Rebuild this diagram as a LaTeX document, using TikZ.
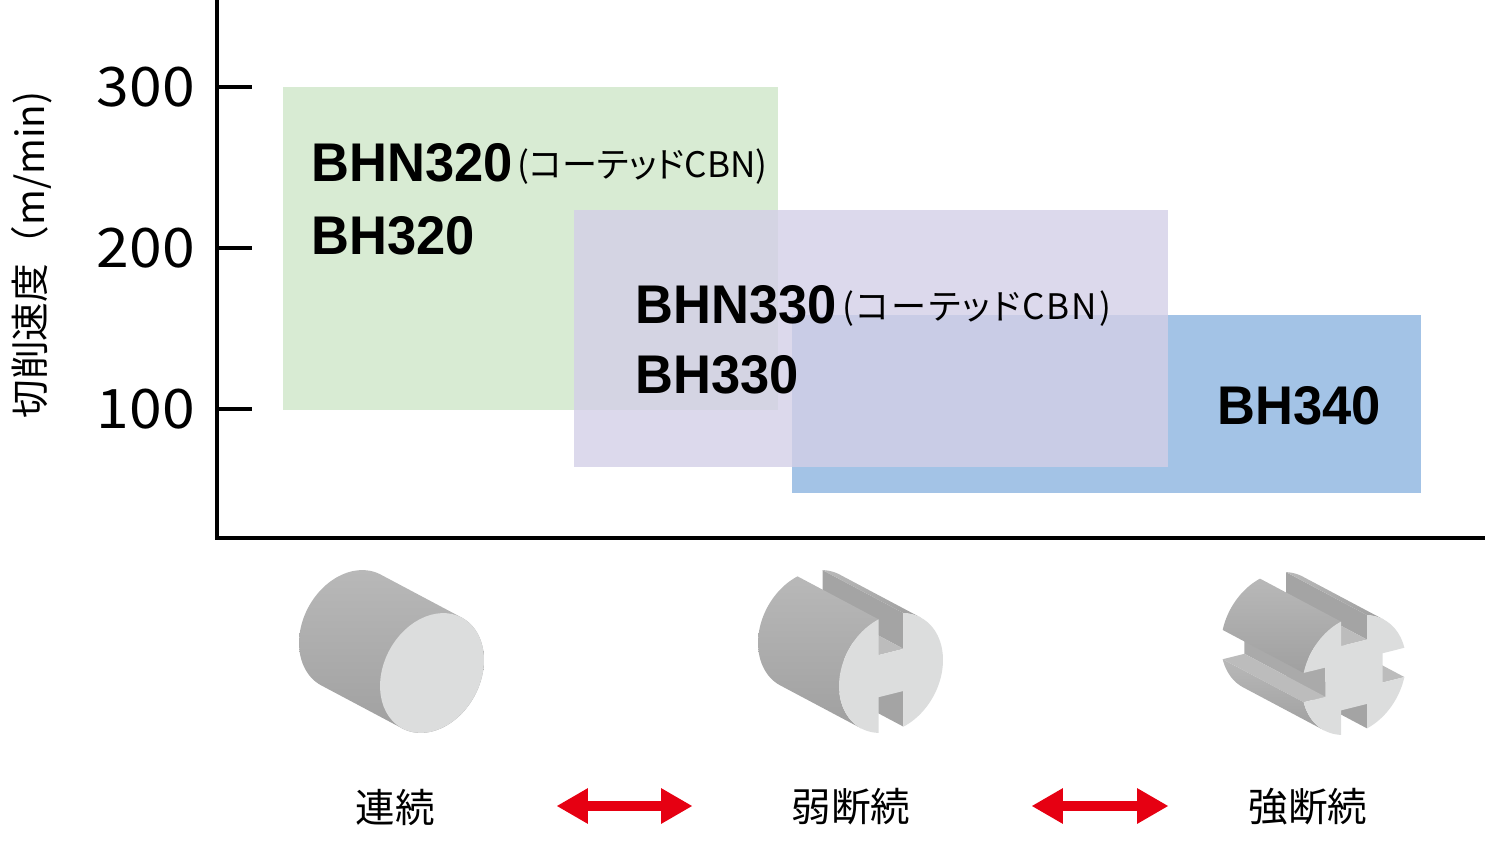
\documentclass[tikz,border=0pt]{standalone}
\usepackage{fontspec}
\setmainfont{Noto Sans CJK JP}
\newfontfamily\gradefont{Liberation Sans}[FakeStretch=0.964]
\newfontfamily\tickfont{Noto Sans CJK JP}[FakeStretch=1.08]
\newfontfamily\coatfont{Noto Sans CJK JP}[RawFeature=+palt]
\newfontfamily\coatwidefont{Noto Sans CJK JP}[RawFeature=+palt, LetterSpace=6]
\usetikzlibrary{arrows.meta}
\definecolor{boxgreen}{RGB}{216,235,211}
\definecolor{boxblue}{RGB}{163,195,230}
\definecolor{boxpurple}{RGB}{211,207,231}
\definecolor{cutred}{RGB}{230,0,18}
\definecolor{facegray}{RGB}{220,221,221}
\definecolor{bodyhi}{RGB}{184,184,184}
\definecolor{bodylo}{RGB}{160,160,160}
\definecolor{wallgray}{RGB}{164,164,164}
\definecolor{floorgray}{RGB}{188,188,188}
\definecolor{sidegray}{RGB}{170,170,170}
\tikzset{
  axisline/.style={line width=2.5pt},
  ticklabel/.style={anchor=east, inner sep=0pt, font=\tickfont\fontsize{31pt}{31pt}\selectfont},
  grade/.style={anchor=base west, inner sep=0pt, font=\gradefont\bfseries\fontsize{31pt}{31pt}\selectfont},
  coat/.style={anchor=base west, inner sep=0pt, font=\coatfont\fontsize{20pt}{20pt}\selectfont},
  cutlabel/.style={inner sep=0pt, font=\fontsize{22.5pt}{22.5pt}\selectfont},
  twoway/.style={cutred, line width=6.2pt,
    {Triangle[length=17.6pt,width=20.4pt,line width=0pt]}-{Triangle[length=17.6pt,width=20.4pt,line width=0pt]}},
  workpiece/.style={samples=60, x={(1.04cm,0.26cm)}, y={(0cm,1.17cm)}, z={(-1.62cm,0.86cm)}},
  body/.style={top color=bodyhi, bottom color=bodylo}
}
\begin{document}
\begin{tikzpicture}[x=0.02cm, y=0.02cm]
  \useasboundingbox (0,0) rectangle (1500,843);
  % speed ranges
  \fill[boxgreen] (283,756) rectangle (778,433);
  \fill[boxblue] (792,528) rectangle (1421,350);
  \fill[boxpurple, fill opacity=0.8] (574,633) rectangle (1168,376);
  % axes
  \coordinate (origin) at (217,305);
  \draw[axisline] (217,843) -- (origin) -- (1485,305);
  \foreach \v/\y in {100/434,200/595,300/756}
  {\draw[axisline] (217,\y) -- (252,\y);
   \node[ticklabel] (tick\v) at (195,\y) {\v};
  }
  \node[rotate=90, inner sep=0pt, font=\fontsize{22pt}{22pt}\selectfont] (ylabel) at (32,588) {切削速度（m/min)};
  % grades
  \node[grade] (bhn320) at (311,661) {BHN320};
  \node[coat] (coat320) at (517,665) {(コーテッドCBN)};
  \node[grade] (bh320) at (311,588) {BH320};
  \node[grade] (bhn330) at (635,520) {BHN330};
  \node[coat, font=\coatwidefont\fontsize{20pt}{20pt}\selectfont] (coat330) at (842,524) {(コーテッドCBN)};
  \node[grade] (bh330) at (635,450) {BH330};
  \node[grade] (bh340) at (1217,419) {BH340};
  % work shapes
  \begin{scope}[shift={(432,170)}, workpiece]
    \shade[body] plot[domain=54.8:234.8] ({cos(\x)},{sin(\x)},1)
      -- plot[domain=234.8:414.8] ({cos(\x)},{sin(\x)},0) -- cycle;
    \fill[facegray] plot[domain=0:360] ({cos(\x)},{sin(\x)},0) -- cycle;
  \end{scope}
  \begin{scope}[shift={(891,170)}, workpiece]
    \fill[wallgray] (0.24,-0.36,0) -- (0.24,-0.971,0) -- (0.24,-0.971,1) -- (0.24,-0.36,1) -- cycle;
    \fill[wallgray] (0.24,0.36,0) -- (0.24,0.971,0) -- (0.24,0.971,1) -- (0.24,0.36,1) -- cycle;
    \fill[floorgray] (-0.24,0.36,0) -- (0.24,0.36,0) -- (0.24,0.36,1) -- (-0.24,0.36,1) -- cycle;
    \shade[body] plot[domain=103.9:234.8] ({cos(\x)},{sin(\x)},0)
      -- plot[domain=234.8:103.9] ({cos(\x)},{sin(\x)},1) -- cycle;
    \shade[body] plot[domain=54.8:76.1] ({cos(\x)},{sin(\x)},0)
      -- plot[domain=76.1:54.8] ({cos(\x)},{sin(\x)},1) -- cycle;
    \fill[facegray] plot[domain=76.1:-76.1] ({cos(\x)},{sin(\x)},0)
      -- (0.24,-0.36,0) -- (-0.24,-0.36,0)
      -- plot[domain=256.1:103.9] ({cos(\x)},{sin(\x)},0)
      -- (-0.24,0.36,0) -- (0.24,0.36,0) -- cycle;
  \end{scope}
  \begin{scope}[shift={(1354,168)}, workpiece]
    \fill[floorgray] (0.55,-0.25,0) -- (0.968,-0.25,0) -- (0.968,-0.25,1) -- (0.55,-0.25,1) -- cycle;
    \fill[wallgray] (0.25,-0.55,0) -- (0.25,-0.968,0) -- (0.25,-0.968,1) -- (0.25,-0.55,1) -- cycle;
    \fill[wallgray] (0.25,0.55,0) -- (0.25,0.968,0) -- (0.25,0.968,1) -- (0.25,0.55,1) -- cycle;
    \fill[floorgray] (-0.25,0.55,0) -- (0.25,0.55,0) -- (0.25,0.55,1) -- (-0.25,0.55,1) -- cycle;
    \fill[sidegray] (-0.55,-0.25,0) -- (-0.55,0.25,0) -- (-0.55,0.25,1) -- (-0.55,-0.25,1) -- cycle;
    \fill[floorgray] (-0.968,-0.25,0) -- (-0.55,-0.25,0) -- (-0.55,-0.25,1) -- (-0.968,-0.25,1) -- cycle;
    \shade[body] plot[domain=104.5:165.5] ({cos(\x)},{sin(\x)},0)
      -- plot[domain=165.5:104.5] ({cos(\x)},{sin(\x)},1) -- cycle;
    \shade[body] plot[domain=194.5:234.8] ({cos(\x)},{sin(\x)},0)
      -- plot[domain=234.8:194.5] ({cos(\x)},{sin(\x)},1) -- cycle;
    \shade[body] plot[domain=54.8:75.5] ({cos(\x)},{sin(\x)},0)
      -- plot[domain=75.5:54.8] ({cos(\x)},{sin(\x)},1) -- cycle;
    \fill[facegray] plot[domain=75.5:14.5] ({cos(\x)},{sin(\x)},0)
      -- (0.55,0.25,0) -- (0.55,-0.25,0)
      -- plot[domain=-14.5:-75.5] ({cos(\x)},{sin(\x)},0)
      -- (0.25,-0.55,0) -- (-0.25,-0.55,0)
      -- plot[domain=-104.5:-165.5] ({cos(\x)},{sin(\x)},0)
      -- (-0.55,-0.25,0) -- (-0.55,0.25,0)
      -- plot[domain=165.5:104.5] ({cos(\x)},{sin(\x)},0)
      -- (-0.25,0.55,0) -- (0.25,0.55,0) -- cycle;
  \end{scope}
  % cutting types
  \node[cutlabel] (cont) at (395,36) {連続};
  \node[cutlabel] (light) at (851,36) {弱断続};
  \node[cutlabel] (heavy) at (1308,36) {強断続};
  \coordinate (a1l) at (557,37);
  \coordinate (a1r) at (692,37);
  \coordinate (a2l) at (1032,37);
  \coordinate (a2r) at (1168,37);
  \draw[twoway] (a1l) -- (a1r);
  \draw[twoway] (a2l) -- (a2r);
\end{tikzpicture}
\end{document}
